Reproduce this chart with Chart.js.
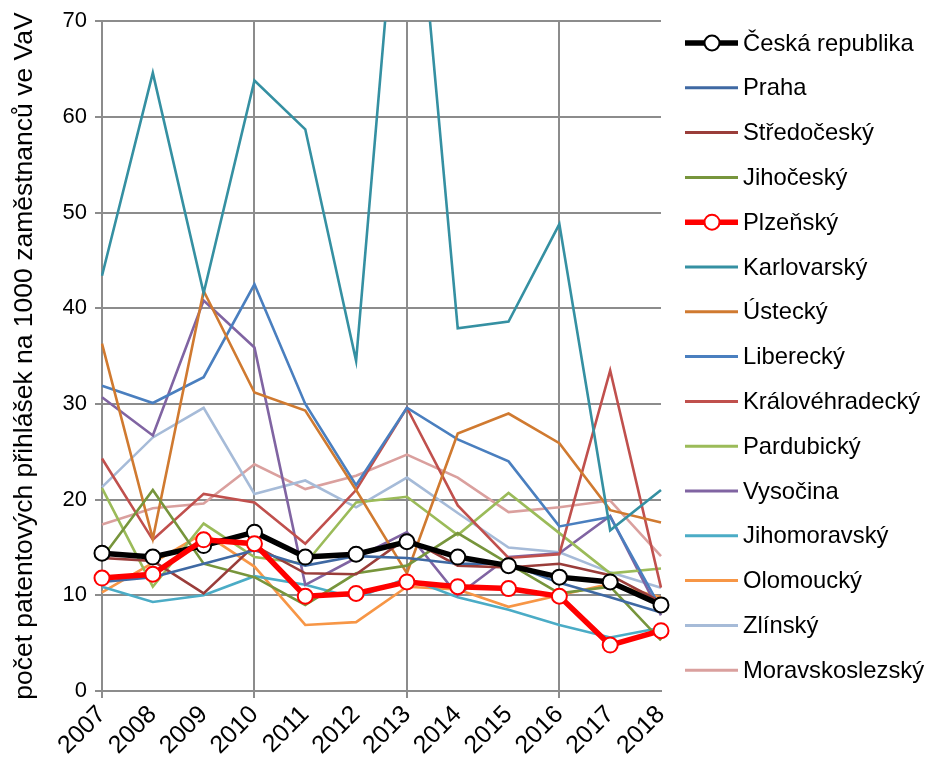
<!DOCTYPE html>
<html><head><meta charset="utf-8">
<script src="https://cdn.jsdelivr.net/npm/chart.js@4/dist/chart.umd.min.js"></script>
<style>html,body{margin:0;padding:0;background:#fff}#wrap{width:927px;height:758px;position:relative}</style>
</head><body><div id="wrap"><canvas id="c"></canvas></div>
<script>
const years = ['2007','2008','2009','2010','2011','2012','2013','2014','2015','2016','2017','2018'];
const yTicks = [0,10,20,30,40,50,60,70];
const yTitle = 'počet patentových přihlášek na 1000 zaměstnanců ve VaV';

const ceskaRepublika = [14.4, 14.0, 15.2, 16.6, 14.0, 14.3, 15.6, 14.0, 13.1, 11.9, 11.4, 9.0];
const praha = [11.4, 11.9, 13.3, 14.7, 13.1, 14.1, 13.9, 13.3, 13.3, 11.3, 9.8, 8.2];
const stredocesky = [13.9, 13.6, 10.2, 15.2, 12.3, 12.2, 16.0, 13.1, 12.9, 13.3, 12.1, 9.3];
const jihocesky = [13.9, 21.0, 13.3, 11.9, 9.0, 12.3, 13.1, 16.5, 13.3, 10.2, 10.9, 5.3];
const plzensky = [11.8, 12.2, 15.8, 15.4, 9.9, 10.2, 11.4, 10.9, 10.7, 9.9, 4.8, 6.3];
const karlovarsky = [43.4, 64.6, 41.6, 63.8, 58.7, 34.5, 96.7, 37.9, 38.6, 48.8, 16.8, 21.0];
const ustecky = [36.3, 15.9, 41.8, 31.2, 29.3, 21.0, 12.3, 26.9, 29.0, 25.9, 18.9, 17.6];
const liberecky = [31.9, 30.1, 32.8, 42.5, 30.0, 21.5, 29.6, 26.3, 24.0, 17.2, 18.2, 8.6];
const kralovehradecky = [24.3, 15.8, 20.6, 19.7, 15.4, 21.0, 29.6, 19.4, 13.9, 14.3, 33.5, 10.8];
const pardubicky = [21.2, 10.9, 17.5, 14.0, 13.3, 19.7, 20.3, 16.3, 20.7, 16.5, 12.3, 12.8];
const vysocina = [30.7, 26.7, 40.8, 35.9, 11.1, 13.9, 16.6, 10.0, 14.0, 14.4, 18.3, 7.9];
const jihomoravsky = [10.9, 9.3, 10.0, 12.0, 11.1, 9.7, 11.8, 9.8, 8.5, 6.9, 5.6, 6.6];
const olomoucky = [10.3, 13.4, 16.5, 13.0, 6.9, 7.2, 10.9, 10.6, 8.8, 10.0, 11.2, 9.8];
const zlinsky = [21.3, 26.5, 29.6, 20.6, 22.0, 19.2, 22.3, 18.6, 15.0, 14.5, 12.4, 10.8];
const moravskoslezsky = [17.4, 19.1, 19.6, 23.7, 21.1, 22.5, 24.7, 22.3, 18.7, 19.2, 19.9, 14.1];

const FONT = '"Liberation Sans", Arial, sans-serif';

function thin(label, data, color, order) {
  return {label, data, borderColor: color, backgroundColor: color, borderWidth: 2.6,
    pointRadius: 0, pointHoverRadius: 0, tension: 0, order};
}
function thick(label, data, color, order) {
  return {label, data, borderColor: color, backgroundColor: '#ffffff', borderWidth: 5.5,
    pointRadius: 7.5, pointBorderWidth: 2, pointBorderColor: color, pointBackgroundColor: '#ffffff',
    pointHoverRadius: 7.5, tension: 0, order};
}

const datasets = [
  thick('Česká republika', ceskaRepublika, '#000000', -1),
  thin('Praha', praha, '#3F69A3', 1),
  thin('Středočeský', stredocesky, '#9A3D3A', 2),
  thin('Jihočeský', jihocesky, '#77953C', 3),
  thick('Plzeňský', plzensky, '#FF0000', -2),
  thin('Karlovarský', karlovarsky, '#3590A2', 5),
  thin('Ústecký', ustecky, '#D07A30', 6),
  thin('Liberecký', liberecky, '#4A7FBF', 7),
  thin('Královéhradecký', kralovehradecky, '#C0504D', 8),
  thin('Pardubický', pardubicky, '#9BBB59', 9),
  thin('Vysočina', vysocina, '#8064A2', 10),
  thin('Jihomoravský', jihomoravsky, '#4BACC6', 11),
  thin('Olomoucký', olomoucky, '#F79646', 12),
  thin('Zlínský', zlinsky, '#A6BBD8', 13),
  thin('Moravskoslezský', moravskoslezsky, '#DAA09E', 14)
];

const legendPlugin = {
  id: 'customLegend',
  afterDraw(chart) {
    const ctx = chart.ctx;
    ctx.save();
    chart.data.datasets.forEach((ds, i) => {
      const y = 43 + i * 44.8;
      ctx.beginPath();
      ctx.strokeStyle = ds.borderColor;
      ctx.lineWidth = ds.pointRadius > 0 ? 5.5 : 3;
      ctx.moveTo(685, y); ctx.lineTo(738, y); ctx.stroke();
      if (ds.pointRadius > 0) {
        ctx.beginPath();
        ctx.fillStyle = '#fff';
        ctx.lineWidth = 2;
        ctx.arc(712, y, 7.5, 0, Math.PI * 2);
        ctx.fill(); ctx.stroke();
      }
      ctx.fillStyle = '#000';
      ctx.font = '23.8px ' + FONT;
      ctx.textBaseline = 'middle';
      ctx.textAlign = 'left';
      ctx.fillText(ds.label, 743, y + 1);
    });
    ctx.restore();
  }
};

const GRID = '#8c8c8c';
new Chart(document.getElementById('c'), {
  type: 'line',
  data: {labels: years, datasets},
  plugins: [legendPlugin],
  options: {
    responsive: true, maintainAspectRatio: false, animation: false,
    layout: {padding: {left: 0, right: 266, top: 20, bottom: 0}},
    plugins: {legend: {display: false}, tooltip: {enabled: false}},
    scales: {
      x: {
        offset: false,
        afterFit(s) { s.height = 67; },
        grid: {color: c => (c.index % 3 === 0 ? GRID : 'rgba(0,0,0,0)'), lineWidth: 2, tickLength: 7, drawOnChartArea: true},
        border: {color: GRID, width: 2},
        ticks: {color: '#000', font: {family: FONT, size: 25}, maxRotation: 45, minRotation: 45, autoSkip: false, padding: 2}
      },
      y: {
        min: 0, max: 70,
        afterFit(s) { s.width = 102; },
        afterBuildTicks(s) { s.ticks = yTicks.map(v => ({value: v})); },
        grid: {color: GRID, lineWidth: 2, tickLength: 7},
        border: {color: GRID, width: 2},
        ticks: {color: '#000', font: {family: FONT, size: 22}, padding: 8},
        title: {display: true, text: yTitle, color: '#000', font: {family: FONT, size: 26.5}, padding: {top: 9, bottom: 0}}
      }
    }
  }
});
</script>
</body></html>
